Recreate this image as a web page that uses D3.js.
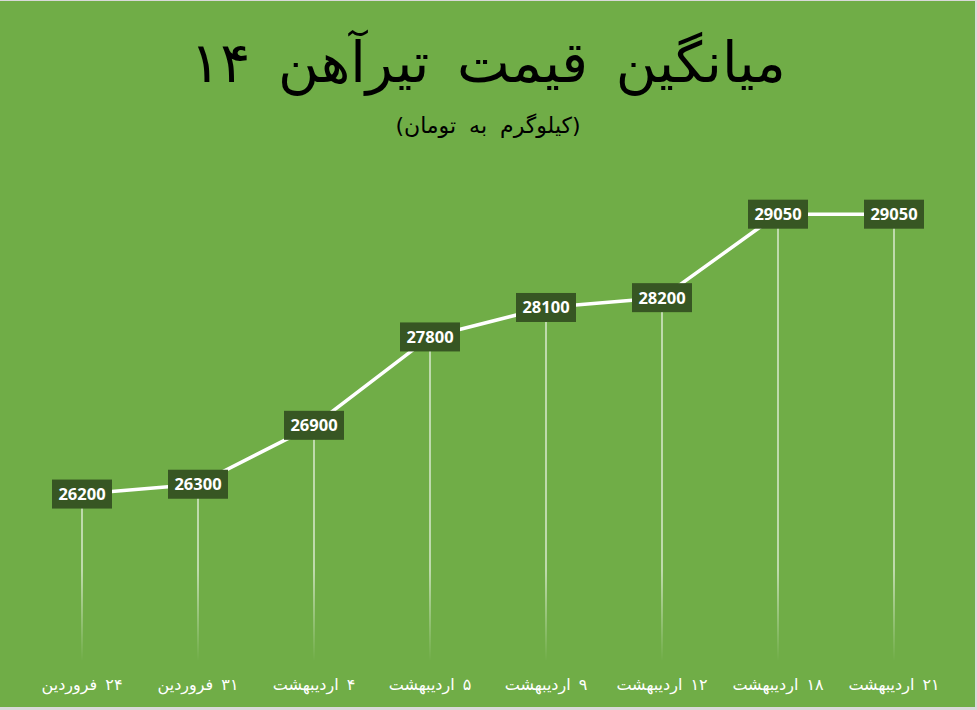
<!DOCTYPE html>
<html>
<head>
<meta charset="utf-8">
<script src="https://cdn.jsdelivr.net/npm/d3@7"></script>
<style>
  html, body { margin: 0; padding: 0; background: #d9d9d9; }
  svg { display: block; }
</style>
</head>
<body>
<div id="chart"></div>
<script>
const categories = [
  "۲۴ فروردین", "۳۱ فروردین", "۴ اردیبهشت", "۵ اردیبهشت",
  "۹ اردیبهشت", "۱۲ اردیبهشت", "۱۸ اردیبهشت", "۲۱ اردیبهشت"
];
const prices = [26200, 26300, 26900, 27800, 28100, 28200, 29050, 29050];
const yDomain = [24500, 29500];
const titleText = "میانگین قیمت تیرآهن ۱۴";
const subtitleText = "(کیلوگرم به تومان)";

const width = 977, height = 710;
const margin = { top: 170, right: 25, bottom: 49, left: 24 };
const fadeStart = 570;

const svg = d3.select("#chart").append("svg")
  .attr("width", width)
  .attr("height", height);

// background panel
svg.append("rect")
  .attr("x", 0).attr("y", 1)
  .attr("width", 975).attr("height", 706)
  .attr("fill", "#70ad47");

const defs = svg.append("defs");
const fade = defs.append("linearGradient")
  .attr("id", "fade")
  .attr("gradientUnits", "userSpaceOnUse")
  .attr("x1", 0).attr("y1", fadeStart)
  .attr("x2", 0).attr("y2", height - margin.bottom);
fade.append("stop").attr("offset", "0%").attr("stop-color", "#fff").attr("stop-opacity", 0.85);
fade.append("stop").attr("offset", "100%").attr("stop-color", "#fff").attr("stop-opacity", 0);

const x = d3.scaleBand()
  .domain(categories)
  .range([margin.left, width - margin.right]);

const y = d3.scaleLinear()
  .domain(yDomain)
  .range([height - margin.bottom, margin.top]);

const cx = d => x(d) + x.bandwidth() / 2;
const pts = categories.map((c, i) => ({ cat: c, v: prices[i] }));

// title
svg.append("text")
  .attr("x", 488).attr("y", 82)
  .attr("text-anchor", "middle")
  .attr("direction", "rtl")
  .style("font-family", "'DejaVu Sans', sans-serif")
  .style("font-size", "56px")
  .style("word-spacing", "10px")
  .attr("fill", "#000")
  .text(titleText);

svg.append("text")
  .attr("x", 488).attr("y", 133)
  .attr("text-anchor", "middle")
  .attr("direction", "rtl")
  .style("font-family", "'DejaVu Sans', sans-serif")
  .style("font-size", "22px")
  .style("word-spacing", "6px")
  .attr("fill", "#000")
  .text(subtitleText);

// drop lines: solid part, then a fading part down to the axis
svg.selectAll("line.dropTop")
  .data(pts)
  .enter().append("line")
  .attr("class", "dropTop")
  .attr("x1", d => cx(d.cat)).attr("x2", d => cx(d.cat))
  .attr("y1", d => y(d.v))
  .attr("y2", fadeStart)
  .attr("stroke", "#fff")
  .attr("stroke-opacity", 0.85)
  .attr("stroke-width", 1.3);

svg.selectAll("line.drop")
  .data(pts)
  .enter().append("line")
  .attr("class", "drop")
  .attr("x1", d => cx(d.cat)).attr("x2", d => cx(d.cat))
  .attr("y1", fadeStart)
  .attr("y2", y(yDomain[0]))
  .attr("stroke", "url(#fade)")
  .attr("stroke-width", 1.3);

// price line
svg.append("path")
  .datum(pts)
  .attr("fill", "none")
  .attr("stroke", "#fff")
  .attr("stroke-width", 3.5)
  .attr("stroke-linejoin", "round")
  .attr("d", d3.line().x(d => cx(d.cat)).y(d => y(d.v)));

// data labels
const lab = svg.selectAll("g.lab")
  .data(pts)
  .enter().append("g")
  .attr("class", "lab")
  .attr("transform", d => `translate(${cx(d.cat)},${y(d.v)})`);

lab.append("rect")
  .attr("x", -30).attr("y", -14.5)
  .attr("width", 60).attr("height", 29)
  .attr("fill", "#375623");

lab.append("text")
  .attr("text-anchor", "middle")
  .attr("dy", "0.36em")
  .style("font-family", "'Open Sans', sans-serif")
  .style("font-weight", "bold")
  .style("font-size", "16.5px")
  .attr("fill", "#fff")
  .text(d => d.v);

// x axis labels
const xAxis = d3.axisBottom(x).tickSize(0).tickPadding(18);
const gx = svg.append("g")
  .attr("transform", `translate(0,${height - margin.bottom})`)
  .call(xAxis);
gx.select(".domain").remove();
gx.selectAll("text")
  .attr("direction", "rtl")
  .style("font-family", "'DejaVu Sans', sans-serif")
  .style("font-size", "16px")
  .style("word-spacing", "3px")
  .attr("fill", "#fff");
</script>
</body>
</html>
